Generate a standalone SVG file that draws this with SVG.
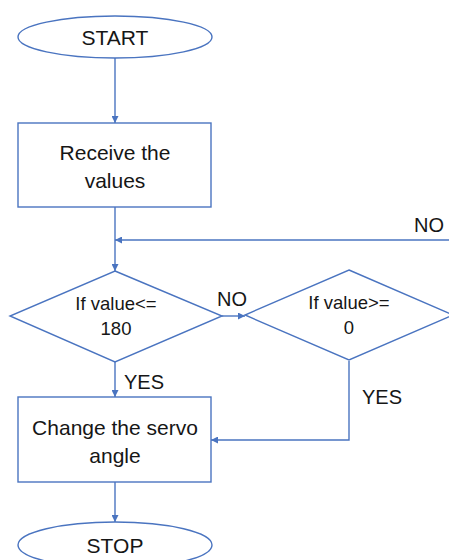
<svg xmlns="http://www.w3.org/2000/svg" width="449" height="560" viewBox="0 0 449 560">
<style>
.s{fill:#fff;stroke:#4a74c0;stroke-width:1.4}
.c{fill:none;stroke:#4a74c0;stroke-width:1.4}
text{font-family:"Liberation Sans",Arial,sans-serif;font-size:21px;fill:#161616;text-anchor:middle;dominant-baseline:central}
.d{font-size:18.5px}
.lb{font-size:20px}
</style>
<defs>
<marker id="a" viewBox="0 0 10 10" refX="10" refY="5" markerWidth="7" markerHeight="7" markerUnits="userSpaceOnUse" orient="auto">
<path d="M0,0L10,5L0,10z" fill="#4a74c0"/>
</marker>
</defs>
<rect width="449" height="560" fill="#fff"/>
<g id="connectors">
<line class="c" x1="115" y1="58" x2="115" y2="123" marker-end="url(#a)"/>
<line class="c" x1="115" y1="207" x2="115" y2="271" marker-end="url(#a)"/>
<line class="c" x1="449" y1="240" x2="115" y2="240" marker-end="url(#a)"/>
<line class="c" x1="222" y1="316" x2="245" y2="316" marker-end="url(#a)"/>
<line class="c" x1="115" y1="362" x2="115" y2="397" marker-end="url(#a)"/>
<polyline class="c" points="349,361 349,440 211,440" marker-end="url(#a)"/>
<line class="c" x1="115" y1="482" x2="115" y2="522" marker-end="url(#a)"/>
<text class="lb" x="429" y="225">NO</text>
<text class="lb" x="232" y="299">NO</text>
<text class="lb" x="144" y="382">YES</text>
<text class="lb" x="382" y="397">YES</text>
</g>
<g id="start">
<ellipse class="s" cx="115" cy="37" rx="97" ry="21"/>
<text x="115" y="37">START</text>
</g>
<g id="receive">
<rect class="s" x="18" y="123" width="193" height="84"/>
<text x="115" y="152">Receive the</text>
<text x="115" y="180">values</text>
</g>
<g id="check180">
<polygon class="s" points="115,271 222,316 115,362 10,316"/>
<text class="d" x="116" y="303">If value&lt;=</text>
<text class="d" x="116" y="328">180</text>
</g>
<g id="check0">
<polygon class="s" points="349,270 453,315 349,360 245,315"/>
<text class="d" x="349" y="302">If value&gt;=</text>
<text class="d" x="349" y="327">0</text>
</g>
<g id="change">
<rect class="s" x="18" y="397" width="193" height="85"/>
<text x="115" y="427">Change the servo</text>
<text x="115" y="455">angle</text>
</g>
<g id="stop">
<ellipse class="s" cx="115" cy="545" rx="97" ry="23"/>
<text x="115" y="545">STOP</text>
</g>
</svg>
